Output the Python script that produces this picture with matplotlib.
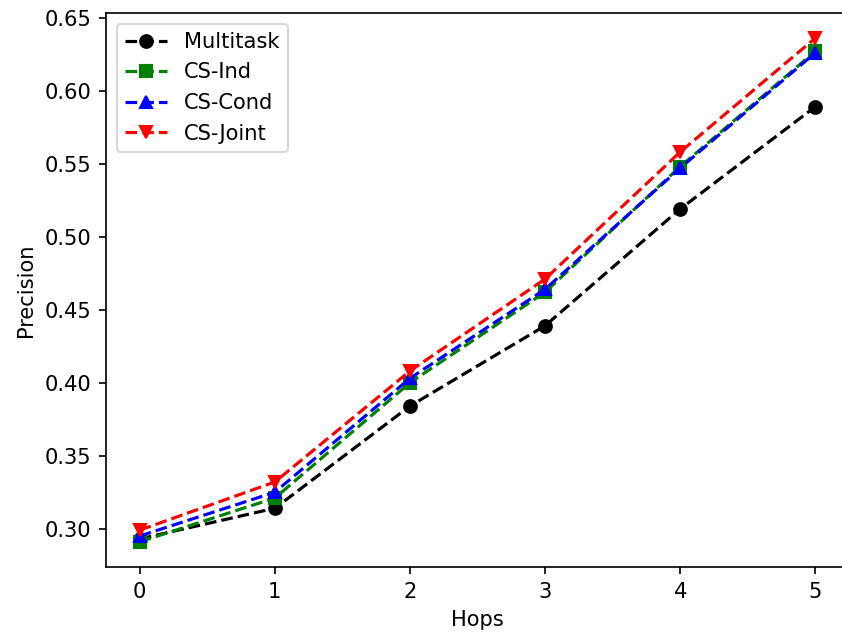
import matplotlib
matplotlib.use("Agg")
import matplotlib.pyplot as plt

hops = [0, 1, 2, 3, 4, 5]
multitask = [0.293, 0.314, 0.384, 0.439, 0.519, 0.589]
cs_ind = [0.291, 0.321, 0.400, 0.462, 0.548, 0.627]
cs_cond = [0.295, 0.325, 0.403, 0.464, 0.547, 0.626]
cs_joint = [0.299, 0.332, 0.408, 0.471, 0.558, 0.636]

# the reference looks like a scaled-up, right-cropped default figure
dpi = 151.5
fig = plt.figure(figsize=(843 / dpi, 633 / dpi), dpi=dpi)
ax = fig.add_axes([106 / 843, 1 - 567 / 633, 743 / 843, 554 / 633])

ax.plot(hops, multitask, 'k--o', label='Multitask')
ax.plot(hops, cs_ind, 'g--s', label='CS-Ind')
ax.plot(hops, cs_cond, 'b--^', label='CS-Cond')
ax.plot(hops, cs_joint, 'r--v', label='CS-Joint')

ax.set_xlabel('Hops')
ax.set_ylabel('Precision')
ax.legend(loc='upper left')
# right side is cut off in the reference
ax.spines['right'].set_visible(False)

fig.savefig('out.png', dpi=dpi)
